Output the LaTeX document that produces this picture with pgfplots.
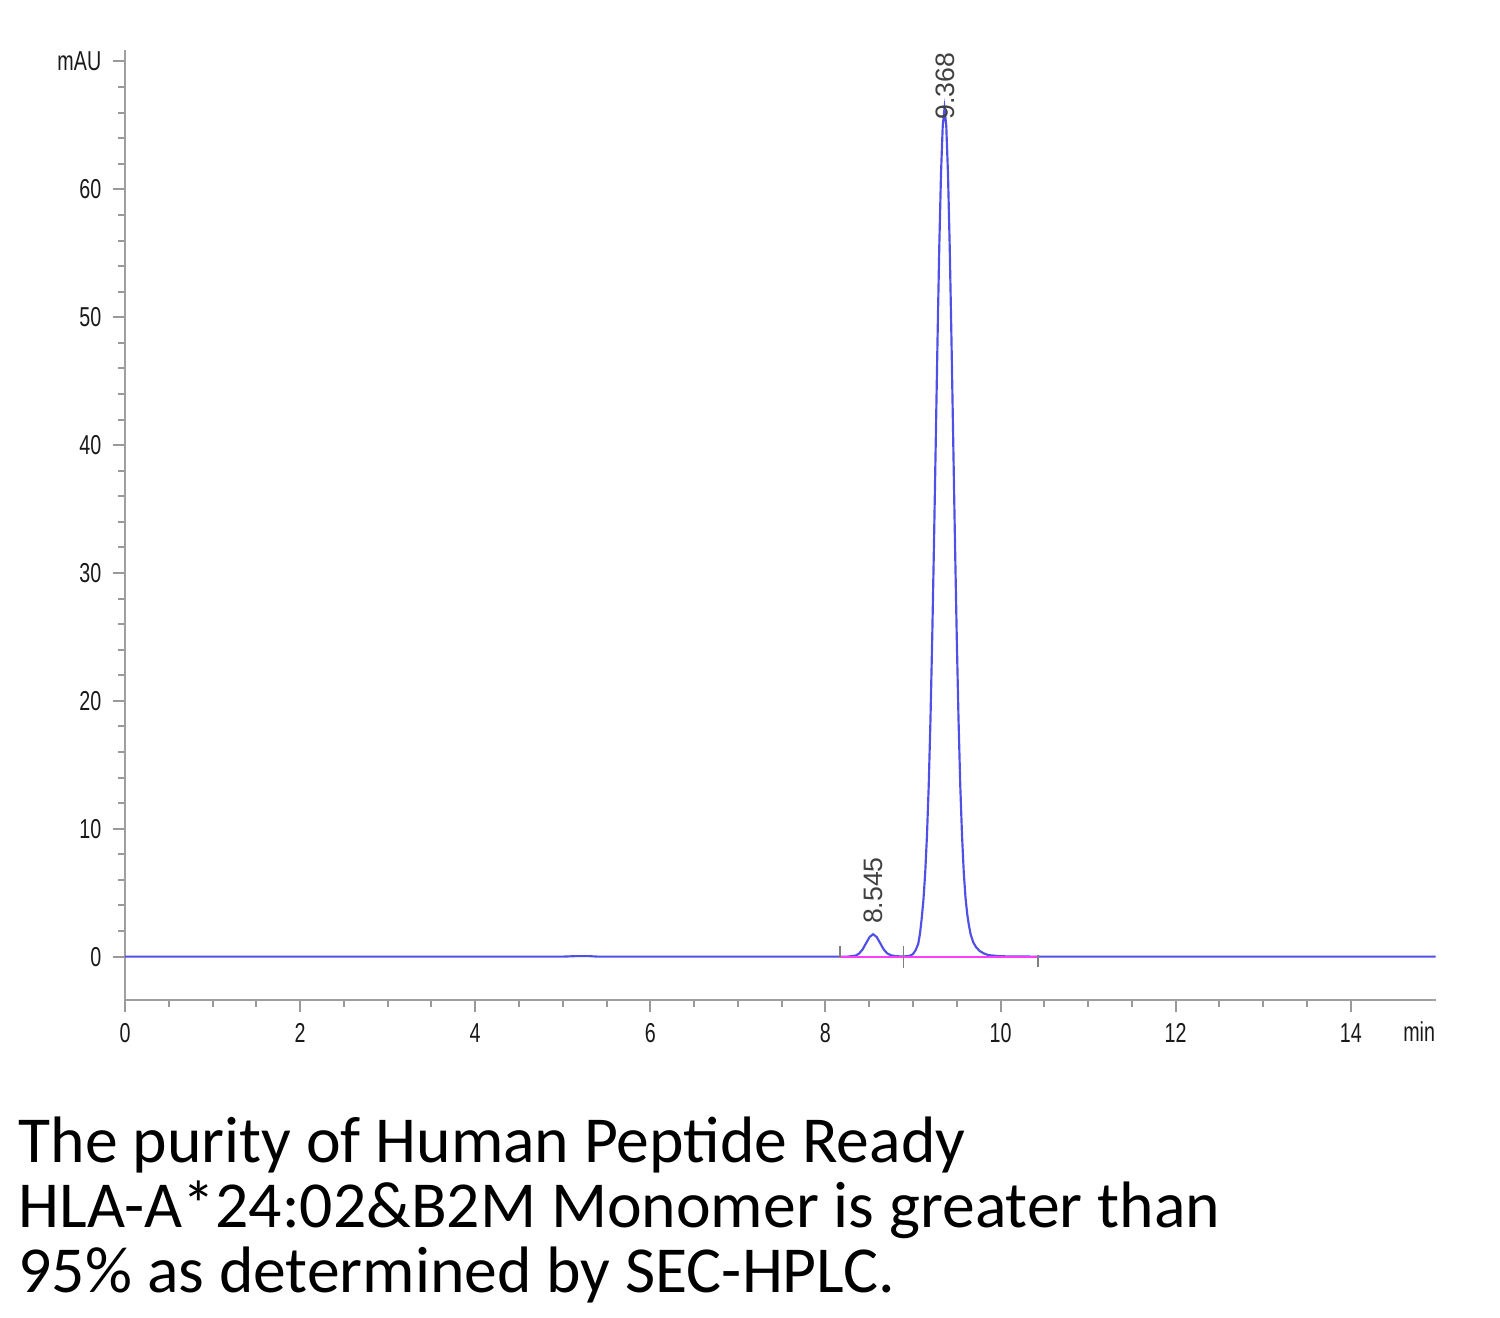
\documentclass[border=0pt]{standalone}
\usepackage{pgfplots}
\pgfplotsset{compat=1.18}
\usepackage{fontspec}
\setmainfont{Liberation Sans}
\newfontfamily\calib{Carlito}
\newfontfamily\narrow[FakeStretch=0.72]{Liberation Sans}
\definecolor{trace}{RGB}{80,80,230}
\definecolor{basel}{RGB}{255,60,255}
\begin{document}
\begin{tikzpicture}
\useasboundingbox (0,0) rectangle (450pt,395.4pt);
\begin{axis}[
  at={(37.5pt,95.4pt)}, anchor=south west,
  scale only axis, width=393.2pt, height=285pt,
  xmin=0, xmax=14.97, ymin=-3.39, ymax=70.9,
  axis x line=bottom, axis y line=left,
  axis line style={-, gray!75, line width=0.8pt},
  tick align=outside,
  major tick length=3.6pt, minor tick length=2pt,
  tick style={gray!80, line width=0.6pt},
  xtick={0,2,...,14}, minor x tick num=3,
  ytick={0,10,...,70}, yticklabels={0,10,20,30,40,50,60,mAU},
  minor y tick num=4,
  /pgf/number format/assume math mode=true,
  ticklabel style={font=\narrow\fontsize{8.2}{9}\selectfont, text=black!90},
  clip=false,
]
\addplot[trace, line width=0.65pt] coordinates {
(0,0) (2,0) (4,0) (5.0,0) (5.15,0.04) (5.3,0.04) (5.4,0) (8.0,0) (8.25,0.0)
(8.30,0.04) (8.345,0.08) (8.385,0.24) (8.425,0.57) (8.465,1.06) (8.505,1.54)
(8.545,1.75) (8.585,1.54) (8.625,1.06) (8.665,0.57) (8.705,0.26) (8.745,0.11)
(8.80,0.04) (8.85,0.02) (8.90,0.02) (8.96,0.05) (9.0,0.2) (9.03,0.5) (9.06,1.0)
(9.08,1.8) (9.10,3.0) (9.12,4.5) (9.14,6.6) (9.16,9.5) (9.18,13.4) (9.20,18.6)
(9.22,25.0) (9.24,32.3) (9.26,40.2) (9.28,48.1) (9.30,55.4) (9.32,61.2)
(9.34,65.0) (9.36,66.3) (9.38,65.0) (9.40,61.2) (9.42,55.4) (9.44,48.1)
(9.46,40.2) (9.48,32.3) (9.50,25.0) (9.52,18.6) (9.54,13.4) (9.56,9.5)
(9.58,6.6) (9.60,4.6) (9.62,3.3) (9.64,2.4) (9.66,1.7) (9.69,1.1) (9.72,0.75)
(9.76,0.45) (9.81,0.25) (9.86,0.12) (9.96,0.05) (10.06,0.02) (10.4,0) (12,0) (14.97,0)
};
\addplot[basel, line width=0.7pt] coordinates {(8.17,-0.05) (10.43,-0.05)};
\addplot[gray, line width=0.5pt] coordinates {(8.17,0.84) (8.17,-0.1)};
\addplot[gray, line width=0.5pt] coordinates {(8.89,0.84) (8.89,-0.9)};
\addplot[gray, line width=0.5pt] coordinates {(10.43,0.1) (10.43,-0.8)};
\node[rotate=90, anchor=west, inner sep=0pt, font=\fontsize{8}{9}\selectfont, text=black!75] at (axis cs:8.545,2.5) {8.545};
\node[rotate=90, anchor=west, inner sep=0pt, font=\fontsize{8}{9}\selectfont, text=black!75] at (axis cs:9.368,65.4) {9.368};
\node[anchor=north east, inner sep=0pt, font=\narrow\fontsize{8.2}{9}\selectfont, text=black!90] at (rel axis cs:1,0) [yshift=-6.3pt] {min};
\end{axis}
\node[anchor=base west, inner sep=0pt, font=\calib\fontsize{19.7}{19.5}\selectfont] at (5.4pt,46.5pt) {The purity of Human Peptide Ready};
\node[anchor=base west, inner sep=0pt, font=\calib\fontsize{19.7}{19.5}\selectfont] at (5.4pt,27.0pt) {HLA-A*24:02\&B2M Monomer is greater than};
\node[anchor=base west, inner sep=0pt, font=\calib\fontsize{19.7}{19.5}\selectfont] at (5.4pt,7.5pt) {95\% as determined by SEC-HPLC.};
\end{tikzpicture}
\end{document}
